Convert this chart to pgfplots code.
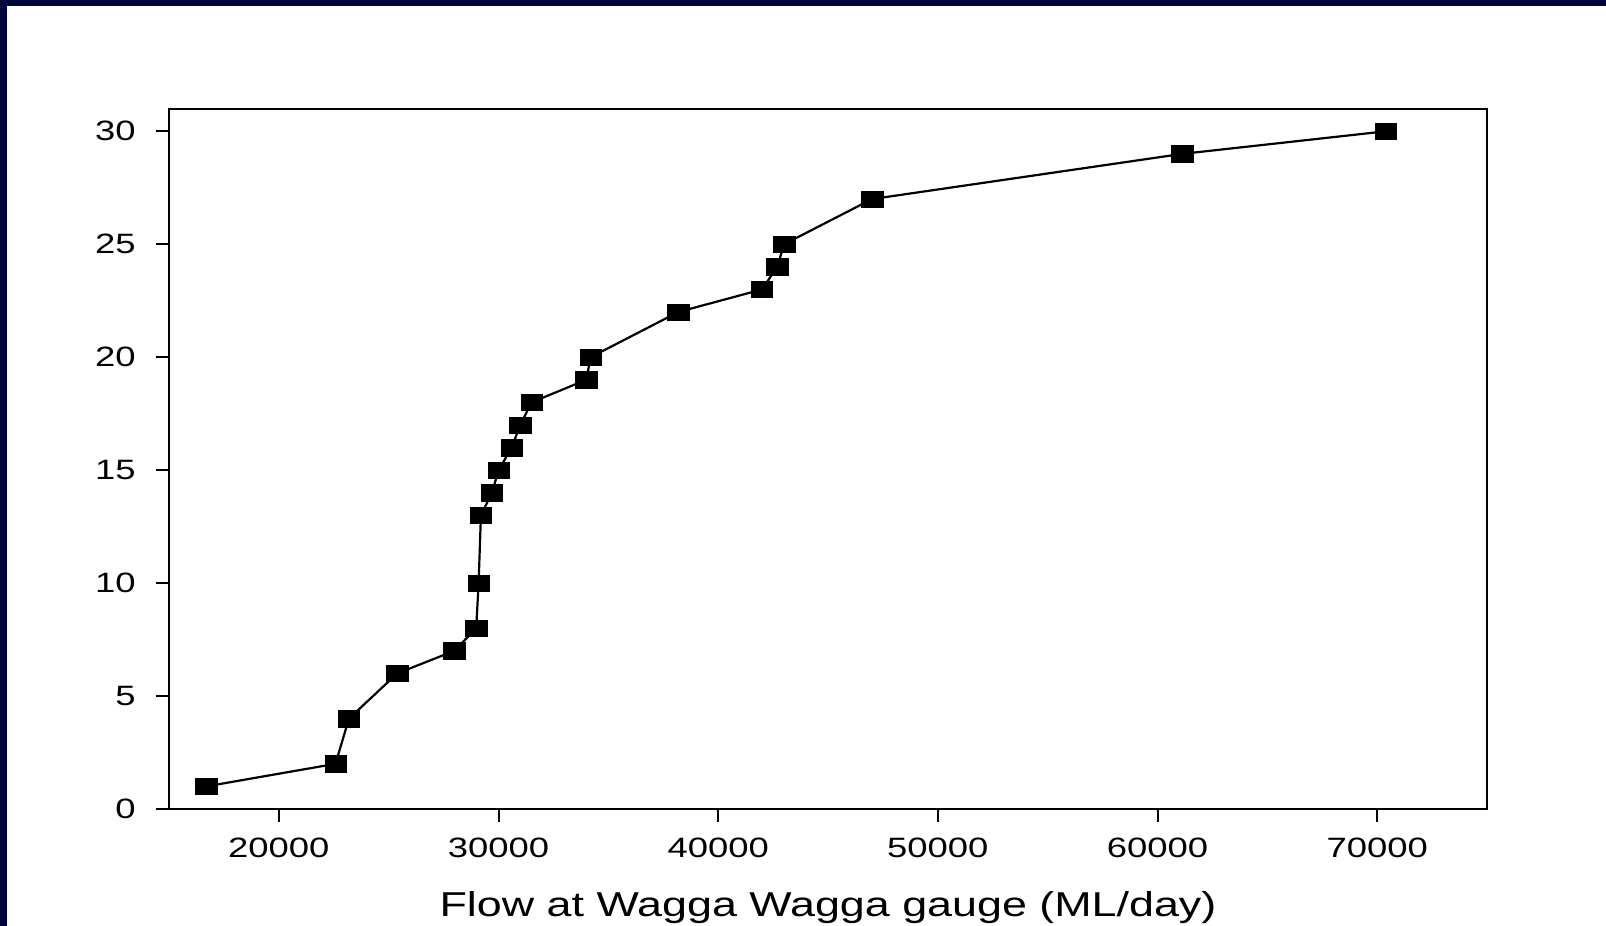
\documentclass[border=0pt]{standalone}
\usepackage{pgfplots}
\pgfplotsset{compat=1.18}
\usepackage{fontspec}
\setmainfont{Liberation Sans}[FakeStretch=1.3]
\definecolor{navy}{RGB}{0,6,58}
\begin{document}
\begin{tikzpicture}
\useasboundingbox (0,0) rectangle (803pt,463pt);
\fill[navy] (0,0) rectangle (803pt,463pt);
\fill[white] (3.5pt,0) rectangle (803pt,460pt);
\begin{axis}[
  at={(84.5pt,58.5pt)}, anchor=south west,
  scale only axis, width=659pt, height=350.15pt,
  xmin=15000, xmax=75000, ymin=0, ymax=31,
  axis line style={line width=1pt},
  xtick={20000,30000,40000,50000,60000,70000},
  ytick={0,5,10,15,20,25,30},
  scaled ticks=false,
  tick align=outside, xtick pos=bottom, ytick pos=left,
  major tick length=6.5pt,
  tick style={line width=1pt, black},
  /pgf/number format/assume math mode=true,
  /pgf/number format/1000 sep={},
  tick label style={font=\fontsize{14pt}{16pt}\selectfont, inner sep=0pt},
  yticklabel style={anchor=east, xshift=-10pt},
  xticklabel style={anchor=north, yshift=-8pt},
  xlabel={Flow at Wagga Wagga gauge (ML/day)},
  xlabel style={font=\fontsize{17.25pt}{20pt}\selectfont, at={(axis description cs:0.5,0)}, anchor=base, yshift=-53.5pt, inner sep=0pt},
]
\addplot[black, line width=1.1pt, mark=square*, mark size=4.1pt,
  mark options={xscale=1.3, fill=black, line width=0.2pt}] coordinates {
(16690,1) (22580,2) (23190,4) (25390,6) (27985,7) (28985,8) (29095,10)
(29200,13) (29700,14) (30005,15) (30600,16) (30990,17) (31505,18)
(33995,19) (34195,20) (38185,22) (41995,23) (42690,24) (43000,25)
(47005,27) (61120,29) (70400,30)
};
\end{axis}
\end{tikzpicture}
\end{document}
